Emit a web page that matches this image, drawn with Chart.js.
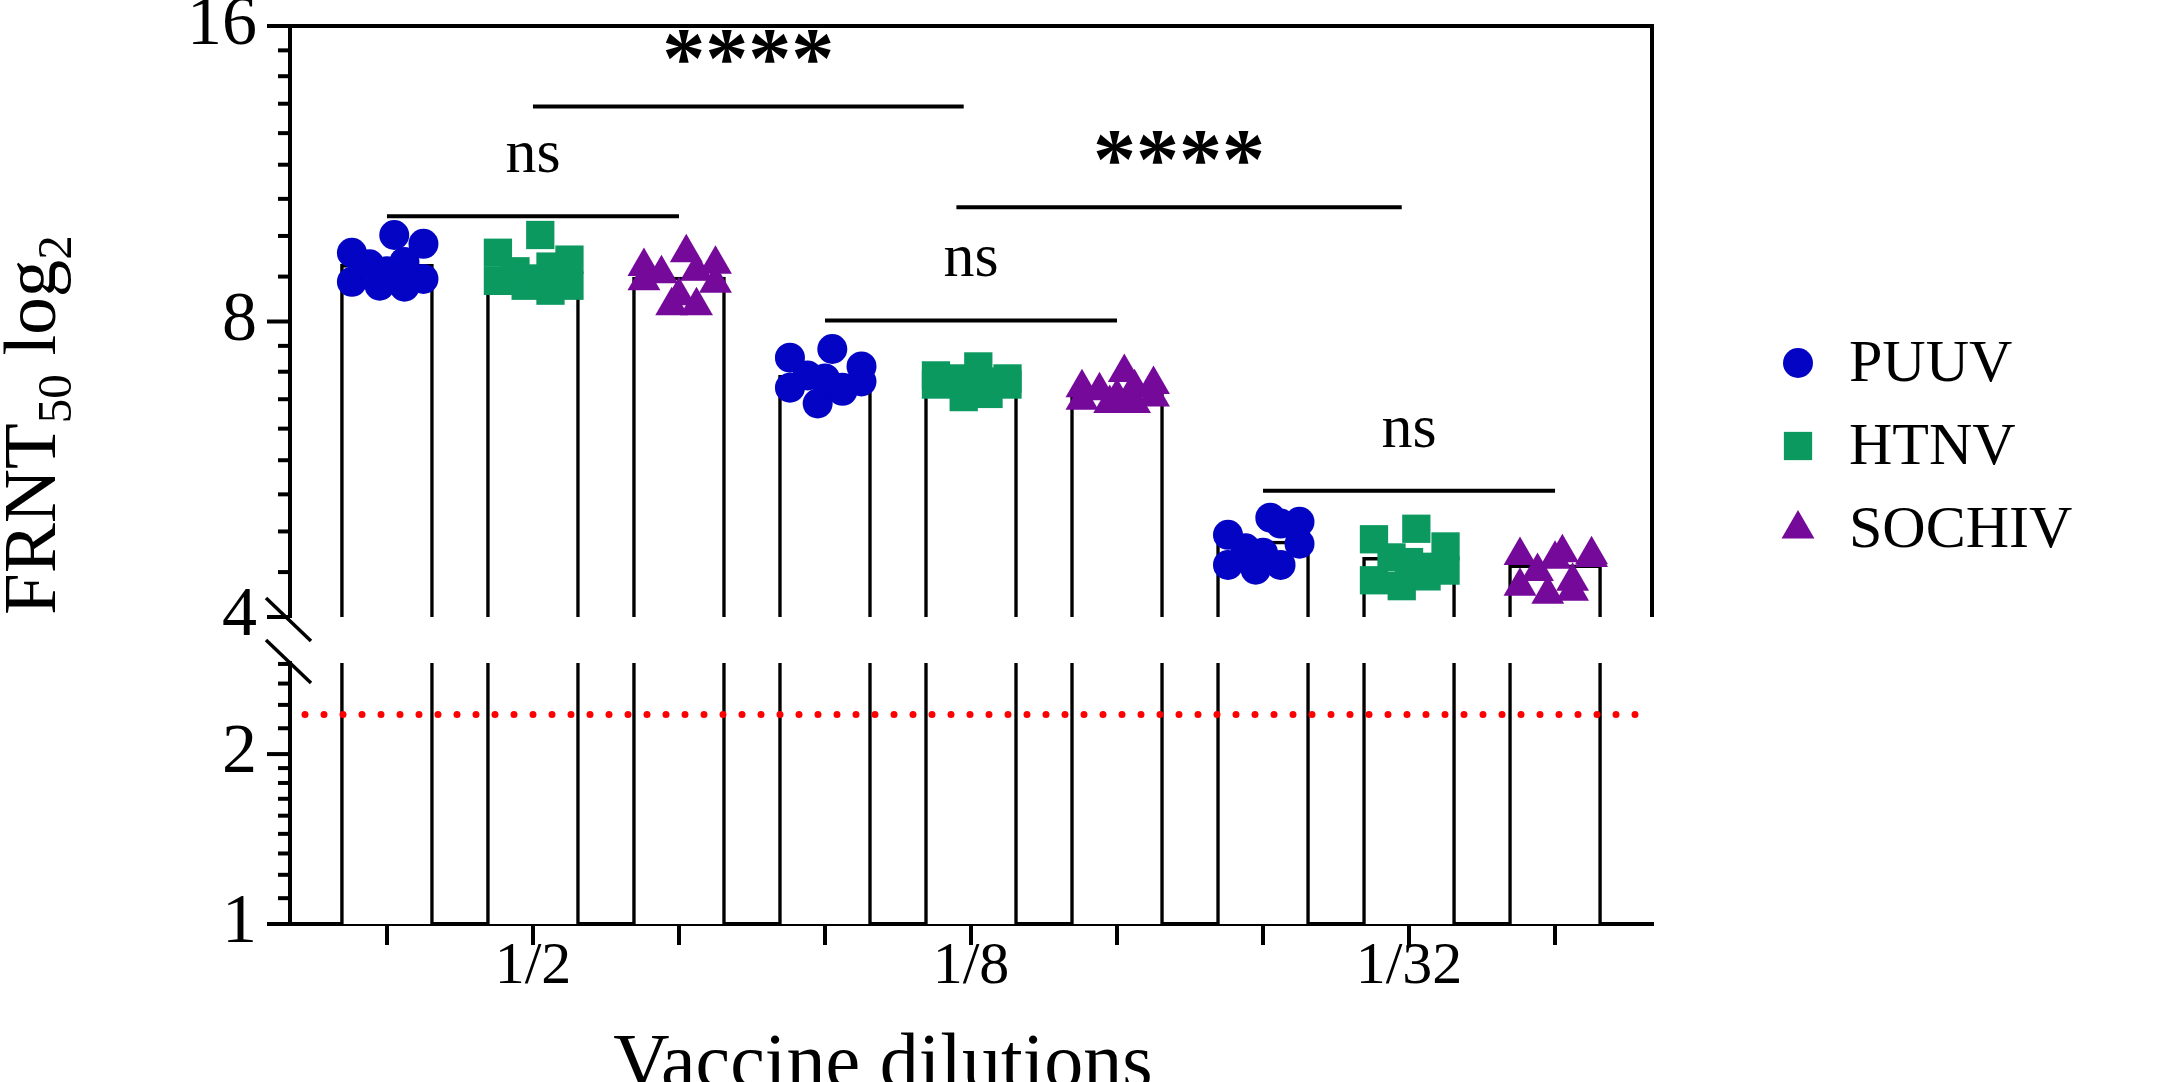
<!DOCTYPE html>
<html lang="en">
<head>
<meta charset="utf-8">
<title>FRNT50 by vaccine dilution</title>
<script src="https://cdn.jsdelivr.net/npm/chart.js@4.4.1/dist/chart.umd.min.js"></script>
<style>
    html, body { margin: 0; padding: 0; background: #fff; }
    #wrap { position: relative; width: 2165px; height: 1082px; overflow: hidden; }
    #wrap canvas { position: absolute; left: 0; top: 0; }
</style>
</head>
<body>
<div id="wrap">
    <canvas id="upperChart" width="2165" height="1082"></canvas>
    <canvas id="lowerChart" width="2165" height="1082"></canvas>
</div>
<script>
// Values
const dilutions = ['1/2', '1/8', '1/32'];
const viruses = ['PUUV', 'HTNV', 'SOCHIV'];

// bar heights (mean FRNT50) for 1/2, 1/8, 1/32
const puuvMean = [9.15, 7.05, 4.78];
const htnvMean = [9.07, 6.98, 4.6];
const sochivMean = [8.88, 6.8, 4.52];

// individual sera, one row per dilution
const puuvValues = [
    [9.4, 9.8, 9.6, 8.78, 8.7, 8.68, 8.84, 9.15, 9.2, 9.0],
    [7.35, 7.5, 7.2, 6.85, 6.6, 6.8, 6.95, 7.05, 6.85, 7.0],
    [4.85, 5.05, 5.0, 4.52, 4.47, 4.52, 4.75, 4.7, 4.98, 4.65]
];
const htnvValues = [
    [9.4, 9.8, 9.25, 8.8, 8.7, 8.6, 8.7, 9.0, 9.1, 8.85],
    [7.05, 7.2, 7.0, 6.9, 6.7, 6.75, 6.9, 7.0, 6.95, 6.85],
    [4.8, 4.92, 4.72, 4.36, 4.3, 4.4, 4.46, 4.6, 4.5, 4.55]
];
const sochivValues = [
    [9.1, 9.4, 9.15, 8.8, 8.3, 8.3, 8.75, 8.95, 9.0, 8.5],
    [6.85, 7.1, 6.9, 6.65, 6.6, 6.6, 6.7, 6.8, 6.85, 6.7],
    [4.62, 4.65, 4.63, 4.3, 4.22, 4.25, 4.6, 4.45, 4.35, 4.58]
];

// axis ticks (log2 axis broken between 2 and 4)
const upperMajorTicks = [4, 8, 16];
const lowerMajorTicks = [1, 2];
const detectionLimit = 2.35;

// significance brackets: label, from / to bar index, height
const sigLabels = ['****', 'ns', '****', 'ns', 'ns'];
const sigFrom = [1, 0, 3.9, 3, 6];
const sigTo = [3.95, 2, 6.95, 5, 8];
const sigLevel = [13.25, 10.24, 10.46, 8.02, 5.38];

// ---- styling / layout ----
const COLORS = ['#0404c4', '#0b9960', '#74099a'];
const MARKERS = ['circle', 'rect', 'triangle'];
const MARKER_RADIUS = [15, 20, 19];
const SPREAD = [-0.24, 0.05, 0.25, -0.24, -0.05, 0.12, 0.25, -0.12, 0.12, 0.0];
const FONT = '"Liberation Serif", "Times New Roman", serif';

const W = 2165, H = 1082;
const AXIS_X = 290, PLOT_RIGHT = 1652;
const UPPER_TOP = 26, UPPER_BOTTOM = 617;
const LOWER_TOP = 663, LOWER_BOTTOM = 924;
const X_MIN = -0.664, X_MAX = 8.664;
const LOWER_MAX = 2.9;

const means = [puuvMean, htnvMean, sochivMean];
const values = [puuvValues, htnvValues, sochivValues];

function barData(base) {
    const out = [];
    dilutions.forEach((d, g) => {
        viruses.forEach((v, k) => {
            out.push({ x: g * viruses.length + k, y: [base, means[k][g]] });
        });
    });
    return out;
}

function pointData(k) {
    const out = [];
    dilutions.forEach((d, g) => {
        values[k][g].forEach((val, i) => {
            out.push({ x: g * viruses.length + k + SPREAD[i], y: val });
        });
    });
    return out;
}

function barSet(base) {
    return {
        type: 'bar',
        data: barData(base),
        order: 5,
        backgroundColor: '#fff',
        borderColor: '#000',
        borderWidth: 3.5,
        borderSkipped: 'bottom',
        barThickness: 93,
        grouped: false
    };
}

function withMinorTicks(majors, max) {
    const all = [];
    majors.forEach(m => {
        all.push(m);
        for (let k = 1; k < 9; k++) {
            const v = m + m * k / 9;
            if (v < max) all.push(v);
        }
    });
    return all.filter(v => v <= max);
}

function yScale(min, max, majors) {
    const tickValues = withMinorTicks(majors, max);
    return {
        type: 'logarithmic',
        min: min,
        max: max,
        afterBuildTicks: scale => { scale.ticks = tickValues.map(v => ({ value: v })); },
        afterFit: scale => { scale.width = AXIS_X; scale.paddingTop = 0; scale.paddingBottom = 0; },
        ticks: {
            autoSkip: false,
            padding: 25,
            color: '#000',
            font: { family: FONT, size: 70 },
            callback: v => majors.includes(v) ? String(v) : ''
        },
        grid: { display: false },
        border: { display: true, color: '#000', width: 4 }
    };
}

// y tick marks: long for labelled ticks, short for the others
function tickMarks(majors) {
    return {
        id: 'tickMarks',
        afterDraw(chart) {
            const y = chart.scales.y;
            const ctx = chart.ctx;
            ctx.save();
            ctx.strokeStyle = '#000';
            ctx.lineWidth = 4;
            y.ticks.forEach(t => {
                const py = y.getPixelForValue(t.value);
                const len = majors.includes(t.value) ? 23 : 12;
                ctx.beginPath();
                ctx.moveTo(AXIS_X - len, py);
                ctx.lineTo(AXIS_X, py);
                ctx.stroke();
            });
            ctx.restore();
        }
    };
}

function breakMark(ctx, cx, cy) {
    ctx.save();
    ctx.strokeStyle = '#000';
    ctx.lineWidth = 3.5;
    ctx.beginPath();
    ctx.moveTo(cx - 22, cy - 21);
    ctx.lineTo(cx + 23, cy + 22);
    ctx.stroke();
    ctx.restore();
}

const upperDecor = {
    id: 'upperDecor',
    afterDraw(chart) {
        const { ctx, chartArea } = chart;
        ctx.save();
        ctx.strokeStyle = '#000';
        ctx.lineWidth = 4;
        ctx.beginPath();
        ctx.moveTo(chartArea.left - 2, chartArea.top);
        ctx.lineTo(chartArea.right, chartArea.top);
        ctx.lineTo(chartArea.right, chartArea.bottom);
        ctx.stroke();
        ctx.restore();
        breakMark(ctx, chartArea.left - 2, chartArea.bottom + 2);
    }
};

const brackets = {
    id: 'brackets',
    afterDatasetsDraw(chart) {
        const { ctx, scales: { x, y } } = chart;
        ctx.save();
        ctx.strokeStyle = '#000';
        ctx.fillStyle = '#000';
        ctx.lineWidth = 4;
        sigLabels.forEach((label, i) => {
            const x1 = x.getPixelForValue(sigFrom[i]);
            const x2 = x.getPixelForValue(sigTo[i]);
            const py = y.getPixelForValue(sigLevel[i]);
            ctx.beginPath();
            ctx.moveTo(x1, py);
            ctx.lineTo(x2, py);
            ctx.stroke();
            ctx.font = (label.includes('*') ? 'bold 86px ' : '62px ') + FONT;
            ctx.textAlign = 'center';
            ctx.textBaseline = 'alphabetic';
            const m = ctx.measureText(label);
            ctx.fillText(label, (x1 + x2) / 2, py - 43 - m.actualBoundingBoxDescent);
        });
        ctx.restore();
    }
};

function drawYTitle(ctx) {
    const big = '75px ' + FONT, small = '49px ' + FONT;
    const parts = [['FRNT', big, 0], ['50', small, 16], [' log', big, 0], ['2', small, 16]];
    ctx.save();
    ctx.translate(55, 615);
    ctx.rotate(-Math.PI / 2);
    ctx.fillStyle = '#000';
    ctx.textAlign = 'left';
    ctx.textBaseline = 'alphabetic';
    let x = 0;
    parts.forEach(p => {
        ctx.font = p[1];
        ctx.fillText(p[0], x, p[2]);
        x += ctx.measureText(p[0]).width;
    });
    ctx.restore();
}

const lowerDecor = {
    id: 'lowerDecor',
    afterDraw(chart) {
        const { ctx, chartArea } = chart;
        breakMark(ctx, chartArea.left - 2, chartArea.top - 2);

        drawYTitle(ctx);

        ctx.save();
        ctx.fillStyle = '#000';
        ctx.font = '78px ' + FONT;
        ctx.textAlign = 'center';
        ctx.textBaseline = 'alphabetic';
        ctx.fillText('Vaccine dilutions', 883, 1087);

        // legend
        ctx.font = '60px ' + FONT;
        ctx.textAlign = 'left';
        ctx.textBaseline = 'middle';
        viruses.forEach((name, k) => {
            const ly = 363 + k * 83;
            ctx.fillStyle = COLORS[k];
            Chart.helpers.drawPoint(ctx, { pointStyle: MARKERS[k], radius: MARKER_RADIUS[k], rotation: 0, borderWidth: 0 }, 1798, ly);
            ctx.fillStyle = '#000';
            ctx.fillText(name, 1849, ly + 2);
        });
        ctx.restore();
    }
};

const pointSets = viruses.map((name, k) => ({
    type: 'scatter',
    label: name,
    data: pointData(k),
    order: 0,
    clip: false,
    pointStyle: MARKERS[k],
    pointRadius: MARKER_RADIUS[k],
    backgroundColor: COLORS[k],
    borderColor: COLORS[k],
    borderWidth: 0,
    showLine: false
}));

// Upper part of the broken axis: 4 to 16
new Chart(document.getElementById('upperChart'), {
    type: 'bar',
    data: { datasets: [...pointSets, barSet(upperMajorTicks[0])] },
    options: {
        responsive: false,
        animation: false,
        devicePixelRatio: 1,
        layout: { padding: { left: 0, top: UPPER_TOP, right: W - PLOT_RIGHT, bottom: H - UPPER_BOTTOM } },
        plugins: { legend: { display: false }, tooltip: { enabled: false } },
        scales: {
            x: { type: 'linear', min: X_MIN, max: X_MAX, offset: false, grid: { offset: false }, display: false },
            y: yScale(4, 16, upperMajorTicks)
        }
    },
    plugins: [tickMarks(upperMajorTicks), upperDecor, brackets]
});

// Lower part: 1 to ~3, with the x axis and detection limit
const barPositions = [];
dilutions.forEach((d, g) => viruses.forEach((v, k) => barPositions.push(g * viruses.length + k)));

new Chart(document.getElementById('lowerChart'), {
    type: 'bar',
    data: {
        datasets: [
            {
                type: 'line',
                data: [{ x: X_MIN, y: detectionLimit }, { x: X_MAX, y: detectionLimit }],
                order: 0,
                borderColor: '#ff0000',
                borderWidth: 7,
                borderDash: [0, 19],
                borderDashOffset: 4,
                borderCapStyle: 'round',
                pointRadius: 0
            },
            barSet(lowerMajorTicks[0])
        ]
    },
    options: {
        responsive: false,
        animation: false,
        devicePixelRatio: 1,
        layout: { padding: { left: 0, top: LOWER_TOP, right: W - PLOT_RIGHT, bottom: 0 } },
        plugins: { legend: { display: false }, tooltip: { enabled: false } },
        scales: {
            x: {
                type: 'linear',
                min: X_MIN,
                max: X_MAX,
                offset: false,
                afterBuildTicks: s => { s.ticks = barPositions.map(v => ({ value: v })); },
                afterFit: s => { s.height = H - LOWER_BOTTOM; s.paddingLeft = 0; s.paddingRight = 0; },
                ticks: {
                    autoSkip: false,
                    maxRotation: 0,
                    padding: -14,
                    color: '#000',
                    font: { family: FONT, size: 60 },
                    callback: v => (v % 3 === 1) ? dilutions[(v - 1) / 3] : ''
                },
                grid: {
                    display: true,
                    offset: false,
                    drawOnChartArea: false,
                    drawTicks: true,
                    tickLength: 21,
                    tickWidth: 4,
                    tickColor: '#000',
                    color: '#000',
                    lineWidth: 4
                },
                border: { display: true, color: '#000', width: 4 }
            },
            y: yScale(1, LOWER_MAX, lowerMajorTicks)
        }
    },
    plugins: [tickMarks(lowerMajorTicks), lowerDecor]
});
</script>
</body>
</html>
